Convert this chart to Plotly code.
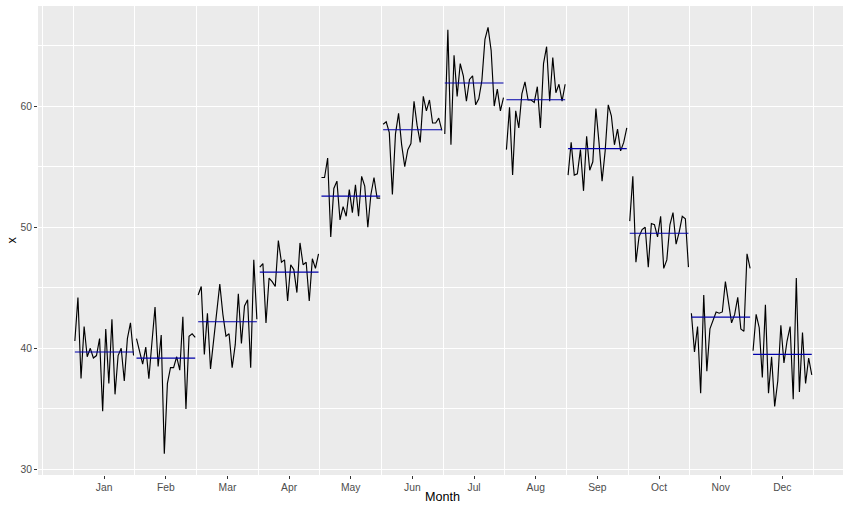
import plotly.graph_objects as go

month_labels = ["Jan", "Feb", "Mar", "Apr", "May", "Jun",
                "Jul", "Aug", "Sep", "Oct", "Nov", "Dec"]
years = list(range(1920, 1940))

jan = [40.6, 44.2, 37.5, 41.8, 39.3, 40.0, 39.2, 39.4, 40.8, 34.8, 41.6, 37.1, 42.4, 36.2, 39.4, 40.0, 37.3, 40.8, 42.1, 39.4]
feb = [40.8, 39.8, 38.7, 40.1, 37.5, 40.5, 43.4, 38.5, 41.1, 31.3, 37.1, 38.4, 38.4, 39.3, 38.2, 42.6, 35.0, 41.0, 41.2, 40.9]
mar = [44.4, 45.1, 39.5, 42.9, 38.3, 40.8, 43.4, 45.3, 42.8, 41.0, 41.2, 38.4, 40.3, 44.5, 40.4, 43.5, 44.0, 38.4, 47.3, 42.4]
apr = [46.7, 47.0, 42.1, 45.8, 45.5, 45.1, 48.9, 47.1, 47.3, 43.9, 46.9, 46.5, 44.6, 48.7, 46.9, 47.1, 43.9, 47.4, 46.6, 47.8]
may = [54.1, 54.1, 55.7, 49.2, 53.2, 53.8, 50.6, 51.7, 50.9, 53.1, 51.2, 53.5, 50.9, 54.2, 53.4, 50.0, 52.7, 54.1, 52.4, 52.4]
jun = [58.5, 58.7, 57.8, 52.7, 57.7, 59.4, 56.8, 55.0, 56.4, 56.9, 60.4, 58.4, 57.0, 60.8, 59.6, 60.5, 58.6, 58.6, 59.0, 58.0]
jul = [57.7, 66.3, 56.8, 64.2, 60.8, 63.5, 62.5, 60.4, 62.2, 62.5, 60.1, 60.6, 62.1, 65.5, 66.5, 64.6, 60.0, 61.4, 59.6, 60.7]
aug = [56.4, 59.9, 54.3, 59.6, 58.2, 61.0, 62.0, 60.5, 60.5, 60.3, 61.6, 58.2, 63.5, 64.9, 60.4, 64.0, 61.1, 61.8, 60.4, 61.8]
sep = [54.3, 57.0, 54.3, 54.4, 56.4, 53.0, 57.5, 54.7, 55.4, 59.8, 57.0, 53.8, 56.3, 60.1, 59.2, 56.8, 58.1, 56.3, 57.0, 58.2]
oct_ = [50.5, 54.2, 47.1, 49.2, 49.8, 50.0, 46.7, 50.3, 50.2, 49.2, 50.9, 46.6, 47.3, 50.2, 51.2, 48.6, 49.6, 50.9, 50.7, 46.7]
nov = [42.9, 39.7, 41.8, 36.3, 44.4, 38.1, 41.6, 42.3, 43.0, 42.9, 43.0, 45.5, 43.6, 42.1, 42.8, 44.2, 41.6, 41.4, 47.8, 46.6]
dec = [39.8, 42.8, 41.7, 37.6, 43.6, 36.3, 39.3, 35.2, 37.3, 41.9, 38.8, 40.6, 41.8, 35.8, 45.8, 36.4, 41.3, 37.1, 39.2, 37.8]

series = [jan, feb, mar, apr, may, jun, jul, aug, sep, oct_, nov, dec]

ymin = min(min(s) for s in series)
ymax = max(max(s) for s in series)
yexp = 0.05 * (ymax - ymin)

seasonwidth = (max(years) - min(years)) * 1.05

fig = go.Figure()
allx = []
for m, vals in enumerate(series, start=1):
    xs = [m + 0.025 + (yr - min(years)) / seasonwidth for yr in years]
    allx += xs
    avg = sum(vals) / len(vals)
    fig.add_trace(go.Scatter(x=xs, y=vals, mode="lines",
                             line=dict(color="black", width=1.15),
                             showlegend=False, hoverinfo="skip"))
    fig.add_trace(go.Scatter(x=[xs[0], xs[-1]], y=[avg, avg], mode="lines",
                             line=dict(color="#0000AA", width=1.15),
                             showlegend=False, hoverinfo="skip"))

xlo = min(allx) - 0.05 * (max(allx) - min(allx))
xhi = 13.484  # panel is cut by the right edge of the picture

font = "Liberation Sans, Arial, Helvetica, sans-serif"

fig.update_layout(
    width=843, height=505,
    margin=dict(l=38, r=0, t=6, b=30),
    paper_bgcolor="white",
    plot_bgcolor="#EBEBEB",
    font=dict(family=font, size=10, color="#4D4D4D"),
    xaxis=dict(
        range=[xlo, xhi],
        tickmode="array",
        tickvals=[m + 0.5 for m in range(1, 13)],
        ticktext=month_labels,
        showgrid=False,
        zeroline=False,
        ticks="outside", ticklen=3, tickwidth=1, tickcolor="#333333",
        tickfont=dict(family=font, size=10.3, color="#4D4D4D"),
        minor=dict(tickmode="array",
                   tickvals=[0.5] + list(range(1, 14)),
                   showgrid=True, gridcolor="white", gridwidth=1.1,
                   ticks=""),
        showline=False,
    ),
    yaxis=dict(
        range=[ymin - yexp, ymax + yexp],
        tickmode="array",
        tickvals=[30, 40, 50, 60],
        showgrid=True, gridcolor="white", gridwidth=1.1,
        zeroline=False,
        ticks="outside", ticklen=3, tickwidth=1, tickcolor="#333333",
        tickfont=dict(family=font, size=10.3, color="#4D4D4D"),
        minor=dict(tickmode="array", tickvals=[35, 45, 55, 65],
                   showgrid=True, gridcolor="white", gridwidth=0.6,
                   ticks=""),
        showline=False,
    ),
    annotations=[
        dict(text="Month", xref="paper", yref="paper", x=(443 - 38) / 805, y=0,
             xanchor="center", yanchor="middle", yshift=-22, showarrow=False,
             font=dict(family=font, size=12.6, color="black")),
        dict(text="x", xref="paper", yref="paper", x=0, y=0.5,
             xanchor="center", yanchor="middle", xshift=-27, textangle=-90,
             showarrow=False, font=dict(family=font, size=12.6, color="black")),
    ],
)

fig.write_html("out.html",
               config={"displayModeBar": False},
               post_script="document.body.style.margin='0';document.body.style.overflow='hidden';")
